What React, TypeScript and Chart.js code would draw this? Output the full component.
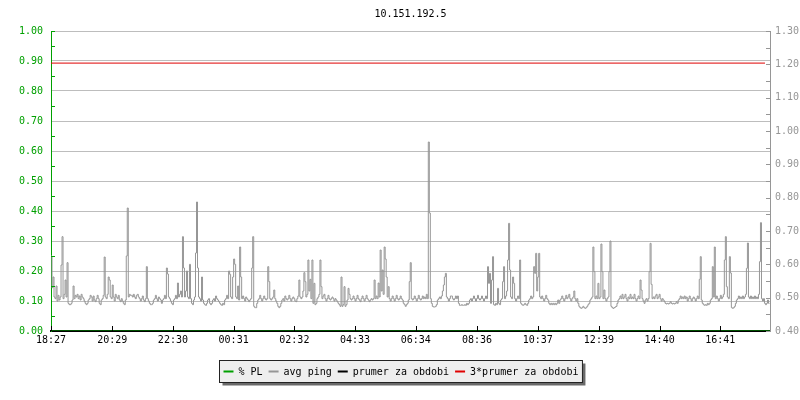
import React, { useEffect, useRef } from "react";
import { Chart, registerables } from "chart.js";

Chart.register(...registerables);

const TITLE = "10.151.192.5";
const STEP_MINUTES = 2;
const X_MAX_MINUTES = 1433;
const TICK_MINUTES = [0, 122, 243, 364, 485, 606, 727, 849, 970, 1092, 1213, 1334];
const TICK_LABELS = ["18:27", "20:29", "22:30", "00:31", "02:32", "04:33", "06:34", "08:36", "10:37", "12:39", "14:40", "16:41"];

const LEGEND_LABELS = ["% PL", "avg ping", "prumer za obdobi", "3*prumer za obdobi"];

// avg ping, one value every 2 minutes (right axis)
const AVG_PING = [
  0.625, 0.53, 0.562, 0.502, 0.497, 0.535, 0.49, 0.507, 0.493, 0.502, 0.598, 0.683, 0.497, 0.51, 0.553, 0.502, 0.605, 0.483, 0.479, 0.479,
  0.483, 0.493, 0.535, 0.497, 0.507, 0.502, 0.51, 0.497, 0.505, 0.493, 0.51, 0.502, 0.497, 0.49, 0.483, 0.479, 0.483, 0.493, 0.497, 0.507,
  0.502, 0.49, 0.505, 0.493, 0.488, 0.497, 0.507, 0.497, 0.483, 0.479, 0.493, 0.497, 0.507, 0.622, 0.502, 0.497, 0.51, 0.562, 0.553, 0.502,
  0.497, 0.538, 0.502, 0.49, 0.51, 0.502, 0.497, 0.507, 0.493, 0.488, 0.497, 0.49, 0.483, 0.479, 0.493, 0.625, 0.769, 0.502, 0.51, 0.507,
  0.507, 0.502, 0.51, 0.502, 0.497, 0.507, 0.51, 0.502, 0.497, 0.49, 0.497, 0.505, 0.493, 0.488, 0.497, 0.593, 0.497, 0.49, 0.483, 0.479,
  0.479, 0.483, 0.493, 0.497, 0.507, 0.497, 0.49, 0.502, 0.497, 0.493, 0.483, 0.493, 0.497, 0.507, 0.497, 0.589, 0.571, 0.502, 0.497, 0.49,
  0.483, 0.479, 0.493, 0.497, 0.507, 0.497, 0.544, 0.502, 0.51, 0.52, 0.502, 0.683, 0.589, 0.502, 0.52, 0.58, 0.502, 0.497, 0.60, 0.497,
  0.483, 0.479, 0.493, 0.502, 0.634, 0.787, 0.589, 0.502, 0.497, 0.49, 0.562, 0.493, 0.483, 0.479, 0.477, 0.483, 0.493, 0.497, 0.483, 0.479,
  0.483, 0.493, 0.497, 0.49, 0.505, 0.497, 0.493, 0.488, 0.483, 0.479, 0.477, 0.483, 0.479, 0.493, 0.497, 0.507, 0.497, 0.58, 0.57, 0.502,
  0.497, 0.562, 0.616, 0.60, 0.502, 0.497, 0.535, 0.493, 0.652, 0.562, 0.497, 0.505, 0.497, 0.49, 0.502, 0.497, 0.493, 0.488, 0.493, 0.497,
  0.589, 0.683, 0.474, 0.47, 0.47, 0.483, 0.493, 0.497, 0.507, 0.497, 0.49, 0.497, 0.505, 0.497, 0.493, 0.497, 0.593, 0.548, 0.497, 0.493,
  0.497, 0.502, 0.523, 0.497, 0.49, 0.483, 0.474, 0.47, 0.474, 0.483, 0.493, 0.497, 0.49, 0.505, 0.497, 0.493, 0.497, 0.507, 0.497, 0.49,
  0.497, 0.502, 0.497, 0.49, 0.488, 0.497, 0.505, 0.553, 0.502, 0.497, 0.502, 0.52, 0.575, 0.548, 0.502, 0.51, 0.613, 0.52, 0.555, 0.497,
  0.613, 0.483, 0.543, 0.479, 0.483, 0.497, 0.502, 0.51, 0.613, 0.533, 0.497, 0.505, 0.51, 0.497, 0.49, 0.497, 0.507, 0.497, 0.493, 0.497,
  0.502, 0.497, 0.49, 0.497, 0.493, 0.488, 0.483, 0.479, 0.474, 0.562, 0.474, 0.479, 0.533, 0.474, 0.479, 0.493, 0.528, 0.51, 0.497, 0.493,
  0.497, 0.505, 0.497, 0.49, 0.497, 0.507, 0.497, 0.493, 0.488, 0.497, 0.505, 0.497, 0.49, 0.497, 0.507, 0.497, 0.493, 0.488, 0.493, 0.497,
  0.493, 0.497, 0.553, 0.497, 0.505, 0.497, 0.544, 0.502, 0.643, 0.52, 0.583, 0.51, 0.652, 0.616, 0.562, 0.502, 0.533, 0.497, 0.49, 0.497,
  0.505, 0.497, 0.49, 0.497, 0.507, 0.497, 0.493, 0.497, 0.505, 0.497, 0.493, 0.483, 0.479, 0.474, 0.479, 0.483, 0.493, 0.548, 0.605, 0.497,
  0.493, 0.497, 0.505, 0.497, 0.49, 0.497, 0.507, 0.497, 0.493, 0.497, 0.505, 0.497, 0.502, 0.497, 0.51, 0.497, 0.967, 0.754, 0.497, 0.483,
  0.474, 0.472, 0.472, 0.474, 0.479, 0.493, 0.497, 0.502, 0.497, 0.505, 0.52, 0.538, 0.562, 0.573, 0.502, 0.497, 0.49, 0.497, 0.505, 0.505,
  0.497, 0.493, 0.497, 0.505, 0.497, 0.505, 0.483, 0.477, 0.477, 0.479, 0.477, 0.477, 0.479, 0.477, 0.483, 0.479, 0.483, 0.493, 0.497, 0.49,
  0.497, 0.505, 0.497, 0.49, 0.497, 0.507, 0.497, 0.493, 0.497, 0.505, 0.497, 0.49, 0.497, 0.505, 0.497, 0.593, 0.543, 0.573, 0.483, 0.553,
  0.623, 0.479, 0.477, 0.483, 0.479, 0.528, 0.483, 0.479, 0.493, 0.497, 0.548, 0.593, 0.497, 0.505, 0.52, 0.613, 0.723, 0.583, 0.502, 0.497,
  0.562, 0.543, 0.497, 0.49, 0.497, 0.505, 0.497, 0.613, 0.483, 0.479, 0.477, 0.479, 0.483, 0.479, 0.477, 0.483, 0.493, 0.497, 0.505, 0.497,
  0.502, 0.593, 0.573, 0.633, 0.52, 0.562, 0.633, 0.502, 0.497, 0.505, 0.497, 0.49, 0.497, 0.507, 0.497, 0.493, 0.483, 0.479, 0.483, 0.479,
  0.483, 0.479, 0.483, 0.479, 0.483, 0.493, 0.483, 0.493, 0.497, 0.505, 0.497, 0.49, 0.497, 0.507, 0.497, 0.502, 0.51, 0.497, 0.49, 0.497,
  0.502, 0.52, 0.497, 0.49, 0.497, 0.483, 0.474, 0.47, 0.468, 0.47, 0.474, 0.47, 0.468, 0.47, 0.474, 0.479, 0.483, 0.493, 0.497, 0.502,
  0.652, 0.578, 0.497, 0.505, 0.497, 0.543, 0.497, 0.502, 0.661, 0.578, 0.497, 0.523, 0.497, 0.49, 0.497, 0.502, 0.578, 0.67, 0.474, 0.47,
  0.468, 0.47, 0.472, 0.474, 0.483, 0.493, 0.497, 0.505, 0.497, 0.51, 0.497, 0.502, 0.51, 0.497, 0.49, 0.502, 0.497, 0.51, 0.497, 0.502,
  0.497, 0.51, 0.497, 0.49, 0.497, 0.505, 0.497, 0.553, 0.523, 0.497, 0.49, 0.483, 0.493, 0.497, 0.49, 0.497, 0.578, 0.663, 0.54, 0.497,
  0.502, 0.497, 0.505, 0.51, 0.497, 0.502, 0.51, 0.497, 0.49, 0.497, 0.493, 0.488, 0.483, 0.481, 0.483, 0.481, 0.483, 0.488, 0.483, 0.481,
  0.483, 0.481, 0.483, 0.488, 0.483, 0.493, 0.497, 0.505, 0.497, 0.502, 0.497, 0.505, 0.497, 0.502, 0.49, 0.497, 0.505, 0.497, 0.49, 0.497,
  0.502, 0.497, 0.49, 0.497, 0.505, 0.497, 0.555, 0.623, 0.493, 0.483, 0.479, 0.477, 0.479, 0.477, 0.483, 0.479, 0.483, 0.493, 0.497, 0.593,
  0.502, 0.652, 0.497, 0.505, 0.497, 0.49, 0.497, 0.507, 0.497, 0.502, 0.51, 0.613, 0.683, 0.533, 0.502, 0.497, 0.623, 0.574, 0.47, 0.468,
  0.47, 0.474, 0.483, 0.493, 0.497, 0.505, 0.497, 0.502, 0.497, 0.505, 0.497, 0.502, 0.51, 0.588, 0.664, 0.502, 0.497, 0.505, 0.497, 0.502,
  0.497, 0.505, 0.497, 0.502, 0.497, 0.51, 0.608, 0.725, 0.497, 0.49, 0.497, 0.483, 0.479, 0.483, 0.493, 0.483, 0.483,
];

// flat series (left axis), given at start and end of their spans
const SPAN_MINUTES = [0, X_MAX_MINUTES];
const RED_SPAN_MINUTES = [0, 1423];
const PL_VALUES = [0, 0];
const PL_AVG = [0, 0];
const PL_AVG3 = [0.893, 0.893];

const GREEN = "#00a000";
const GRAY = "#969696";
const GRID = "#bdbdbd";
const RED = "#e00000";
const BLACK = "#000000";
const FONT_FAMILY = "'DejaVu Sans Mono', monospace";
const FONT = `10px ${FONT_FAMILY}`;
const COLORS = [GREEN, GRAY, BLACK, RED];

const decorPlugin = {
  id: "decor",
  afterDraw(chart: any) {
    const { ctx, chartArea: ca } = chart;
    const yL = chart.scales.y;
    const yR = chart.scales.y1;
    const xs = chart.scales.x;
    ctx.save();
    // title
    ctx.font = FONT;
    ctx.fillStyle = BLACK;
    ctx.textAlign = "center";
    ctx.textBaseline = "middle";
    ctx.fillText(TITLE, (ca.left + ca.right) / 2, 14);

    ctx.lineWidth = 1;
    // left minor ticks (inward)
    ctx.strokeStyle = GREEN;
    for (let k = 1; k <= 20; k += 2) {
      const py = Math.round(yL.getPixelForValue(k * 0.05)) + 0.5;
      ctx.beginPath();
      ctx.moveTo(ca.left, py);
      ctx.lineTo(ca.left + 4, py);
      ctx.stroke();
    }
    {
      const py = Math.round(yL.getPixelForValue(1)) + 0.5;
      ctx.beginPath();
      ctx.moveTo(ca.left, py);
      ctx.lineTo(ca.left + 4, py);
      ctx.stroke();
    }
    // right ticks (inward)
    ctx.strokeStyle = GRAY;
    for (let k = 0; k <= 18; k++) {
      const py = Math.round(yR.getPixelForValue(0.4 + k * 0.05)) + 0.5;
      ctx.beginPath();
      ctx.moveTo(ca.right - 4, py);
      ctx.lineTo(ca.right, py);
      ctx.stroke();
    }
    // x ticks (inward)
    ctx.strokeStyle = BLACK;
    TICK_MINUTES.forEach((m) => {
      const px = Math.round(xs.getPixelForValue(m)) + 0.5;
      ctx.beginPath();
      ctx.moveTo(px, ca.bottom - 5);
      ctx.lineTo(px, ca.bottom);
      ctx.stroke();
    });

    // legend
    ctx.font = FONT;
    const seg = 10;
    const gapSegText = 5;
    const gapItem = 6;
    const pad = 4;
    const widths = LEGEND_LABELS.map((t) => ctx.measureText(t).width);
    let total = pad * 2;
    widths.forEach((w, i) => {
      total += seg + gapSegText + w + (i < widths.length - 1 ? gapItem : 0);
    });
    const bx = Math.round(400 - total / 2) + 0.5;
    const by = 360.5;
    const bh = 22;
    ctx.fillStyle = "#6a6a6a";
    ctx.fillRect(bx + 3, by + 3, total, bh);
    ctx.fillStyle = "#eeeeee";
    ctx.fillRect(bx, by, total, bh);
    ctx.strokeStyle = "#222222";
    ctx.strokeRect(bx, by, total, bh);
    let cx = bx + pad;
    const cy = by + bh / 2;
    ctx.textAlign = "left";
    ctx.textBaseline = "middle";
    LEGEND_LABELS.forEach((t, i) => {
      ctx.strokeStyle = COLORS[i];
      ctx.lineWidth = 2;
      ctx.beginPath();
      ctx.moveTo(cx, cy);
      ctx.lineTo(cx + seg, cy);
      ctx.stroke();
      cx += seg + gapSegText;
      ctx.fillStyle = BLACK;
      ctx.fillText(t, cx, cy + 0.5);
      cx += widths[i] + gapItem;
    });
    ctx.restore();
  },
};

export default function App() {
  const ref = useRef<HTMLCanvasElement | null>(null);

  useEffect(() => {
    document.body.style.margin = "0";
    const canvas = ref.current;
    if (!canvas) return;

    const avgData = AVG_PING.map((v, i) => ({ x: i * STEP_MINUTES, y: v }));
    const flat = (vals: number[], span: number[]) => vals.map((v, i) => ({ x: span[i], y: v }));

    const chart = new Chart(canvas, {
      type: "line",
      data: {
        datasets: [
          {
            label: LEGEND_LABELS[0],
            data: flat(PL_VALUES, SPAN_MINUTES),
            yAxisID: "y",
            borderColor: GREEN,
            borderWidth: 1,
            pointRadius: 0,
          },
          {
            label: LEGEND_LABELS[1],
            data: avgData,
            yAxisID: "y1",
            borderColor: GRAY,
            borderWidth: 1,
            pointRadius: 0,
            stepped: "before",
          },
          {
            label: LEGEND_LABELS[2],
            data: flat(PL_AVG, SPAN_MINUTES),
            yAxisID: "y",
            borderColor: BLACK,
            borderWidth: 2,
            pointRadius: 0,
          },
          {
            label: LEGEND_LABELS[3],
            data: flat(PL_AVG3, RED_SPAN_MINUTES),
            yAxisID: "y",
            borderColor: RED,
            borderWidth: 1,
            pointRadius: 0,
          },
        ],
      },
      options: {
        responsive: false,
        animation: false,
        devicePixelRatio: 1,
        layout: { padding: { top: 31, left: 0, right: 0, bottom: 0 } },
        plugins: {
          legend: { display: false },
          title: { display: false },
          tooltip: { enabled: false },
        },
        font: { family: FONT_FAMILY, size: 10 },
        scales: {
          x: {
            type: "linear",
            min: 0,
            max: X_MAX_MINUTES,
            afterBuildTicks: (s: any) => {
              s.ticks = TICK_MINUTES.map((v) => ({ value: v }));
            },
            afterFit: (s: any) => {
              s.height = 69;
            },
            grid: { display: false, drawTicks: false },
            border: { display: true, color: BLACK, width: 2 },
            ticks: {
              autoSkip: false,
              maxRotation: 0,
              padding: 3,
              color: BLACK,
              font: { family: FONT_FAMILY, size: 10 },
              callback: (_v: any, idx: number) => TICK_LABELS[idx],
            },
          },
          y: {
            type: "linear",
            position: "left",
            min: 0,
            max: 1,
            afterFit: (s: any) => {
              s.width = 51;
            },
            grid: { color: GRID, drawTicks: false },
            border: { display: true, color: GREEN, width: 1 },
            ticks: {
              stepSize: 0.1,
              padding: 8,
              color: GREEN,
              font: { family: FONT_FAMILY, size: 10 },
              callback: (v: any) => Number(v).toFixed(2),
            },
          },
          y1: {
            type: "linear",
            position: "right",
            min: 0.4,
            max: 1.3,
            afterFit: (s: any) => {
              s.width = 30;
            },
            grid: { display: false, drawTicks: false },
            border: { display: true, color: GRAY, width: 1 },
            ticks: {
              stepSize: 0.1,
              padding: 5,
              color: GRAY,
              font: { family: FONT_FAMILY, size: 10 },
              callback: (v: any) => Number(v).toFixed(2),
            },
          },
        },
      },
      plugins: [decorPlugin],
    } as any);

    return () => chart.destroy();
  }, []);

  return (
    <div style={{ width: 800, height: 400 }}>
      <canvas ref={ref} width={800} height={400} style={{ display: "block" }} />
    </div>
  );
}
